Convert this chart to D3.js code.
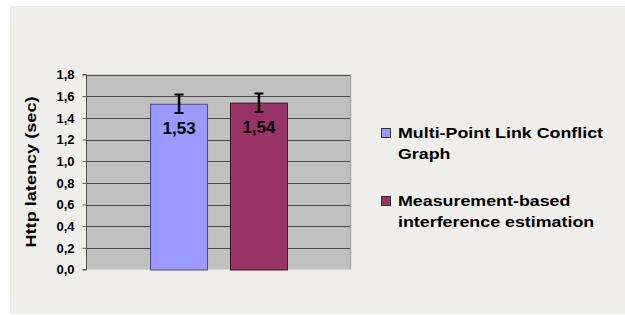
<!DOCTYPE html>
<html><head><meta charset="utf-8">
<script src="https://cdn.jsdelivr.net/npm/d3@7"></script>
<style>html,body{margin:0;padding:0;background:#fff;}svg{display:block;}</style>
</head><body>
<svg id="c" width="625" height="315"></svg>
<script>
const categories = ["Multi-Point Link Conflict Graph", "Measurement-based interference estimation"];
const legendLines = [["Multi-Point Link Conflict", "Graph"], ["Measurement-based", "interference estimation"]];
const values = [1.53, 1.54];
const errors = [0.085, 0.085];
const valueLabels = ["1,53", "1,54"];
const yTicks = [0, 0.2, 0.4, 0.6, 0.8, 1.0, 1.2, 1.4, 1.6, 1.8];
const colors = ["#9999ff", "#993366"];
const yTitle = "Http latency (sec)";

const svg = d3.select("#c");
const font = "'Liberation Sans', Arial, sans-serif";
const SX = 1.19;
svg.append("rect").attr("x", 10).attr("y", 6).attr("width", 615).attr("height", 308).attr("fill", "#f0eeea");

const L = 87, R = 350, T = 74.5, B = 269.5;
const y = d3.scaleLinear().domain([0, 1.8]).range([B, T]);
const x = d3.scaleBand().domain(categories).range([L, R]).paddingInner(0.2875).paddingOuter(0.79);

svg.append("rect").attr("x", L).attr("y", T).attr("width", R - L).attr("height", B - T).attr("fill", "#c0c0c0");
svg.append("line").attr("x1", R + 0.5).attr("x2", R + 0.5).attr("y1", T).attr("y2", B).attr("stroke", "#a8a8a8").attr("stroke-width", 1.5);

// gridlines
svg.append("g").selectAll("line").data(yTicks.slice(1)).join("line")
  .attr("x1", L).attr("x2", R)
  .attr("y1", d => Math.round(y(d)) + 0.5).attr("y2", d => Math.round(y(d)) + 0.5)
  .attr("stroke", "#4a4a4a").attr("stroke-width", 1);

// axis
const ax = svg.append("g").attr("transform", `translate(${L - 0.5},0)`)
  .call(d3.axisLeft(y).tickValues(yTicks).tickSize(4).tickPadding(8)
    .tickFormat(d => d3.format(".1f")(d).replace(".", ",")));
ax.select(".domain").attr("stroke", "#555").attr("d", `M-4,${T}H0V${B}H-4`);
ax.selectAll(".tick line").attr("stroke", "#555");
ax.selectAll(".tick text").attr("font-family", font).attr("font-size", 13).attr("font-weight", "bold").attr("fill", "#000");

// bars
svg.append("g").selectAll("rect").data(values).join("rect")
  .attr("x", (d, i) => x(categories[i]) + 0.5).attr("width", x.bandwidth())
  .attr("y", d => y(d) + 0.5).attr("height", d => B - y(d))
  .attr("fill", (d, i) => colors[i]).attr("stroke", (d, i) => i === 0 ? "#4b4b80" : "#3a1428").attr("stroke-width", 1);

// error bars
const eg = svg.append("g").attr("stroke", "#000").attr("stroke-width", 2.5);
values.forEach((v, i) => {
  const cx = x(categories[i]) + x.bandwidth() / 2 + 0.5;
  eg.append("line").attr("x1", cx).attr("x2", cx).attr("y1", y(v + errors[i])).attr("y2", y(v - errors[i]));
  [v + errors[i], v - errors[i]].forEach(e => {
    eg.append("line").attr("x1", cx - 4.5).attr("x2", cx + 4.5).attr("y1", y(e)).attr("y2", y(e)).attr("stroke-width", 2);
  });
});

// value labels
svg.append("g").selectAll("text").data(values).join("text")
  .attr("transform", (d, i) => `translate(${x(categories[i]) + x.bandwidth() / 2 + 0.5},${y(d) + 30.5})`)
  .attr("text-anchor", "middle").attr("font-family", font).attr("font-size", 17).attr("font-weight", "bold").attr("fill", "#000")
  .text((d, i) => valueLabels[i]);

// y title
svg.append("text").attr("transform", `translate(36,${(T + B) / 2}) rotate(-90) scale(1.21,1)`)
  .attr("text-anchor", "middle").attr("font-family", font).attr("font-size", 15).attr("font-weight", "bold").attr("fill", "#000")
  .text(yTitle);

// legend
const lg = svg.append("g");
const ly = [138, 206];
legendLines.forEach((lines, i) => {
  lg.append("rect").attr("x", 381.5).attr("y", ly[i] - 9.5).attr("width", 9).attr("height", 9)
    .attr("fill", colors[i]).attr("stroke", "#333").attr("stroke-width", 1);
  const t = lg.append("text").attr("transform", `translate(398,${ly[i]}) scale(${SX},1)`)
    .attr("font-family", font).attr("font-size", 15).attr("font-weight", "bold").attr("fill", "#000");
  lines.forEach((ln, j) => t.append("tspan").attr("x", 0).attr("y", j * 21.5).text(ln));
});
</script>
</body></html>
